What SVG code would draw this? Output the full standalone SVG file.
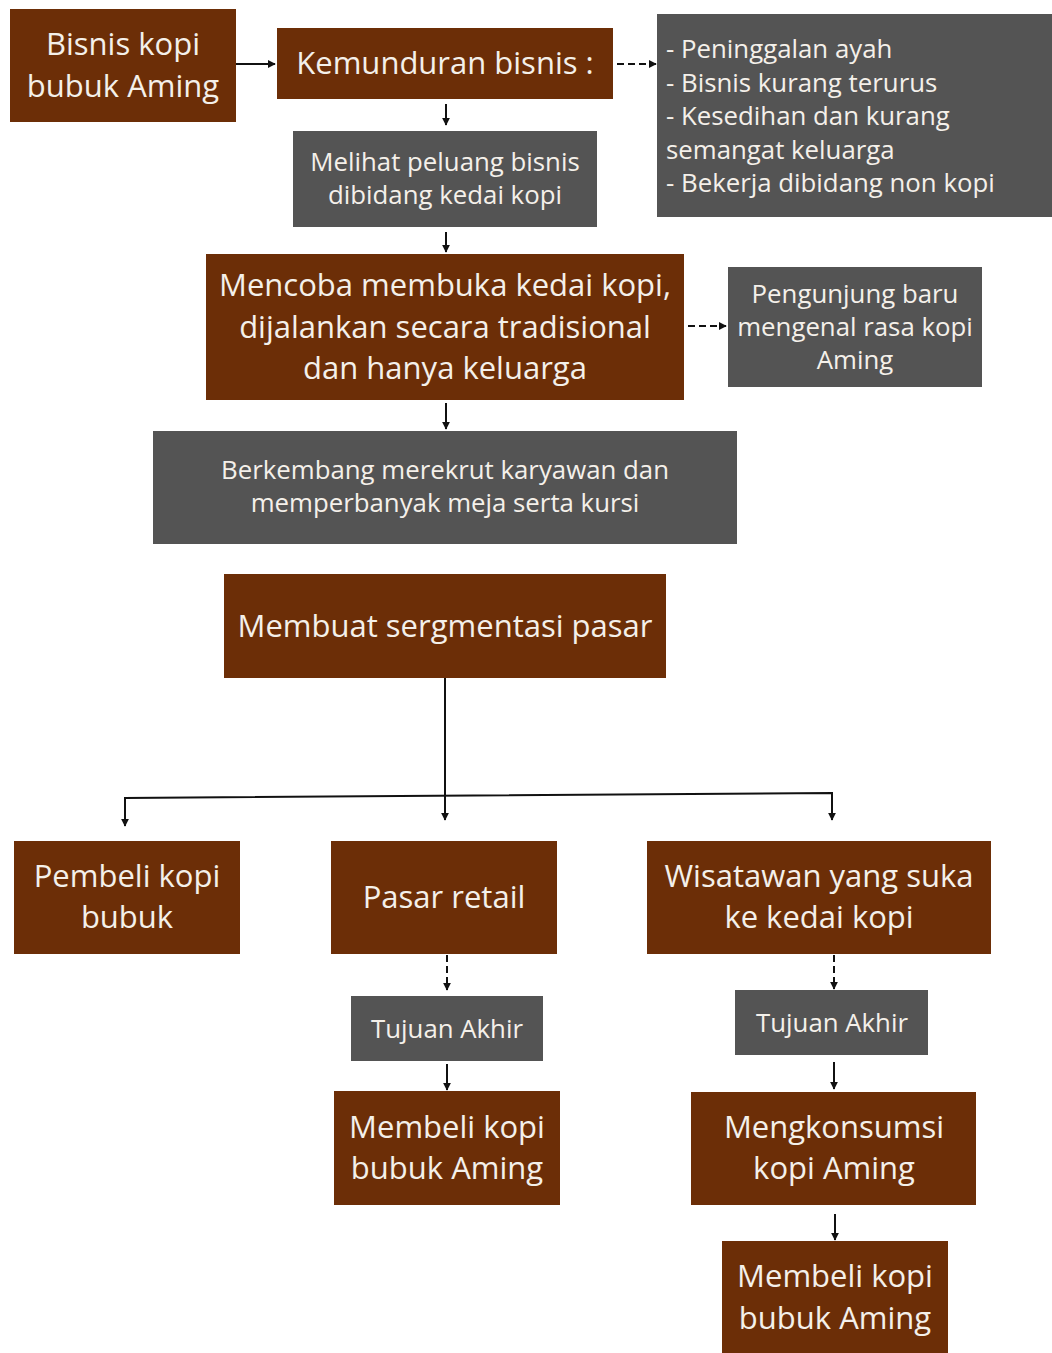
<svg xmlns="http://www.w3.org/2000/svg" width="1052" height="1353" viewBox="0 0 1052 1353">
<style>
.b{fill:#6C2E07}
.g{fill:#545454}
text{font-family:"Open Sans","Noto Sans",sans-serif;fill:#F4F0EA;text-anchor:middle;dominant-baseline:central}
.l{font-size:31px}
.m{font-size:25.8px}
.c{fill:none;stroke:#111;stroke-width:2}
.d{stroke-dasharray:7 4}
</style>
<defs>
<marker id="a" viewBox="0 0 10 10" refX="9" refY="5" markerWidth="4" markerHeight="4" orient="auto">
<path d="M0,0 L10,5 L0,10 z" fill="#111"/>
</marker>
</defs>
<rect width="1052" height="1353" fill="#fff"/>

<g id="connectors">
<path class="c" d="M236,64 H275" marker-end="url(#a)"/>
<path class="c d" d="M617,64 H656" marker-end="url(#a)"/>
<path class="c" d="M446,104 V125" marker-end="url(#a)"/>
<path class="c" d="M446,232 V252" marker-end="url(#a)"/>
<path class="c d" d="M688,326 H726" marker-end="url(#a)"/>
<path class="c" d="M446,403 V429" marker-end="url(#a)"/>
<path class="c" d="M445,678 V820" marker-end="url(#a)"/>
<path class="c" d="M125,826 V798 L832,793 V820" marker-end="url(#a)"/>
<path class="c" d="M125,800 V826" marker-end="url(#a)"/>
<path class="c d" d="M447,955 V990" marker-end="url(#a)"/>
<path class="c" d="M447,1064 V1090" marker-end="url(#a)"/>
<path class="c d" d="M834,955 V989" marker-end="url(#a)"/>
<path class="c" d="M834,1062 V1089" marker-end="url(#a)"/>
<path class="c" d="M835,1214 V1240" marker-end="url(#a)"/>
</g>

<g id="n1"><rect class="b" x="10" y="9" width="226" height="113"/>
<text class="l" x="123" y="43">Bisnis kopi</text><text class="l" x="123" y="85">bubuk Aming</text></g>

<g id="n2"><rect class="b" x="277" y="28" width="336" height="71"/>
<text class="l" x="445" y="62">Kemunduran bisnis :</text></g>

<g id="n3"><rect class="g" x="657" y="14" width="395" height="203"/>
<text class="m" x="666" y="48" style="text-anchor:start">- Peninggalan ayah</text>
<text class="m" x="666" y="82" style="text-anchor:start">- Bisnis kurang terurus</text>
<text class="m" x="666" y="115" style="text-anchor:start">- Kesedihan dan kurang</text>
<text class="m" x="666" y="149" style="text-anchor:start">semangat keluarga</text>
<text class="m" x="666" y="182" style="text-anchor:start">- Bekerja dibidang non kopi</text></g>

<g id="n4"><rect class="g" x="293" y="131" width="304" height="96"/>
<text class="m" x="445" y="161">Melihat peluang bisnis</text><text class="m" x="445" y="194">dibidang kedai kopi</text></g>

<g id="n5"><rect class="b" x="206" y="254" width="478" height="146"/>
<text class="l" x="445" y="284">Mencoba membuka kedai kopi,</text>
<text class="l" x="445" y="326">dijalankan secara tradisional</text>
<text class="l" x="445" y="367">dan hanya keluarga</text></g>

<g id="n6"><rect class="g" x="728" y="267" width="254" height="120"/>
<text class="m" x="855" y="293">Pengunjung baru</text>
<text class="m" x="855" y="326">mengenal rasa kopi</text>
<text class="m" x="855" y="359">Aming</text></g>

<g id="n7"><rect class="g" x="153" y="431" width="584" height="113"/>
<text class="m" x="445" y="469">Berkembang merekrut karyawan dan</text>
<text class="m" x="445" y="502">memperbanyak meja serta kursi</text></g>

<g id="n8"><rect class="b" x="224" y="574" width="442" height="104"/>
<text class="l" x="445" y="625">Membuat sergmentasi pasar</text></g>

<g id="n9"><rect class="b" x="14" y="841" width="226" height="113"/>
<text class="l" x="127" y="875">Pembeli kopi</text><text class="l" x="127" y="916">bubuk</text></g>

<g id="n10"><rect class="b" x="331" y="841" width="226" height="113"/>
<text class="l" x="444" y="896">Pasar retail</text></g>

<g id="n11"><rect class="b" x="647" y="841" width="344" height="113"/>
<text class="l" x="819" y="875">Wisatawan yang suka</text><text class="l" x="819" y="916">ke kedai kopi</text></g>

<g id="n12"><rect class="g" x="351" y="996" width="192" height="65"/>
<text class="m" x="447" y="1028">Tujuan Akhir</text></g>

<g id="n13"><rect class="b" x="334" y="1091" width="226" height="114"/>
<text class="l" x="447" y="1126">Membeli kopi</text><text class="l" x="447" y="1167">bubuk Aming</text></g>

<g id="n14"><rect class="g" x="735" y="990" width="193" height="65"/>
<text class="m" x="832" y="1022">Tujuan Akhir</text></g>

<g id="n15"><rect class="b" x="691" y="1092" width="285" height="113"/>
<text class="l" x="834" y="1126">Mengkonsumsi</text><text class="l" x="834" y="1167">kopi Aming</text></g>

<g id="n16"><rect class="b" x="722" y="1241" width="226" height="112"/>
<text class="l" x="835" y="1275">Membeli kopi</text><text class="l" x="835" y="1317">bubuk Aming</text></g>
</svg>
